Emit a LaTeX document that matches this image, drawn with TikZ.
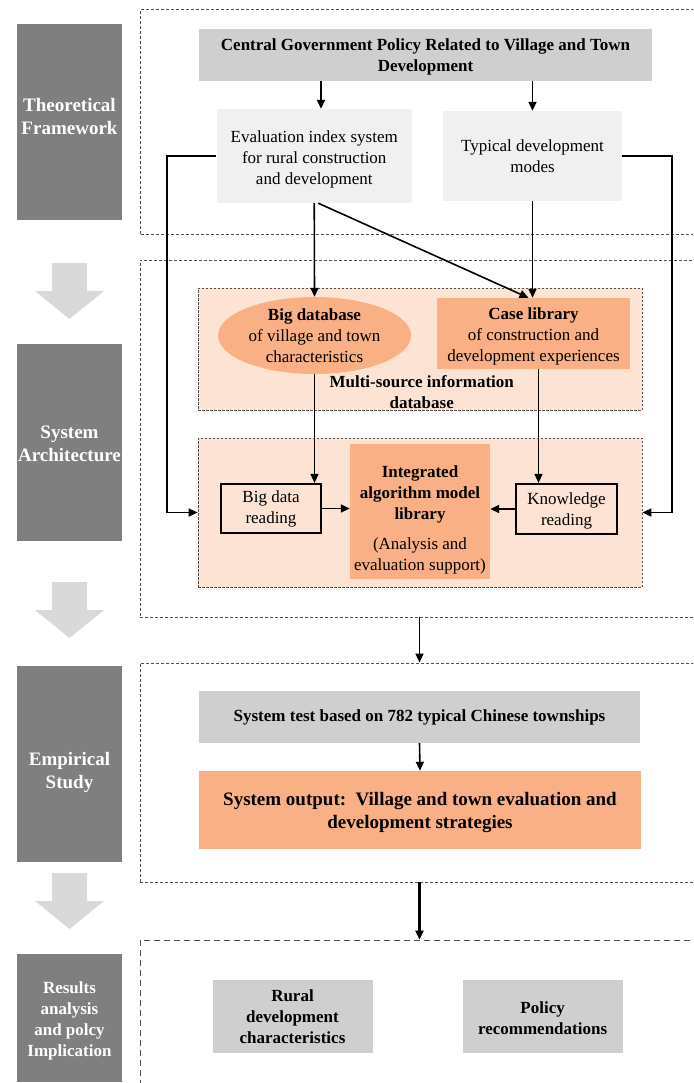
\documentclass[tikz,border=0pt]{standalone}
\usepackage{fontspec}
\setmainfont{Liberation Serif}
\usetikzlibrary{arrows.meta,shapes.geometric,calc}
\definecolor{darklab}{HTML}{7F7F7F}
\definecolor{lightarr}{HTML}{D9D9D9}
\definecolor{grayfill}{HTML}{CFCFCF}
\definecolor{palefill}{HTML}{F0F0F0}
\definecolor{orangefill}{HTML}{F8B084}
\definecolor{pinkfill}{HTML}{FCE3D4}
\definecolor{dashcol}{HTML}{505050}
\newcommand\myBody{\fontsize{17}{21}\selectfont}
\newcommand\myBold{\fontsize{17}{20.5}\selectfont\bfseries}
\newcommand\myBig{\fontsize{19}{23}\selectfont\bfseries}
\newcommand\phasearrow[1]{\fill[lightarr] (52,#1) -- (87,#1) -- (87,#1+28) -- (104,#1+28) -- (69.5,#1+56) -- (35,#1+28) -- (52,#1+28) -- cycle;}
\tikzset{
  phaselabel/.style={fill=darklab, inner sep=0, minimum width=105},
  phasetext/.style={text=white, font=\myBig, align=center, inner sep=0},
  outerbox/.style={draw=dashcol, dash pattern=on 3pt off 2pt, line width=0.8pt, inner sep=0},
  pinkbox/.style={draw=dashcol, fill=pinkfill, dash pattern=on 2.5pt off 1.5pt, line width=0.7pt, inner sep=0},
  graybox/.style={fill=grayfill, font=\myBold, align=center, inner sep=0},
  palebox/.style={fill=palefill, font=\myBody, align=center, inner sep=0},
  orangebox/.style={fill=orangefill, font=\myBody, align=center, inner sep=0},
  readbox/.style={draw=black, line width=2.2pt, fill=pinkfill, font=\myBody, align=center, inner sep=0},
  conn/.style={draw=black, line width=1.6pt, -{Triangle[length=9pt,width=8pt]}},
}
\begin{document}
\begin{tikzpicture}[x=1pt,y=-1pt]
\clip (0,0) rectangle (693,1083);
\fill[white] (0,0) rectangle (693,1083);

% phase labels
\node[phaselabel, minimum height=196] (tfl) at (69.5,122) {};
\node[phasetext] (tflt) at (69.5,117) {Theoretical\\Framework};
\node[phaselabel, minimum height=197] (sal) at (69.5,442.5) {};
\node[phasetext] (salt) at (69.5,443.5) {System\\Architecture};
\node[phaselabel, minimum height=196] (esl) at (69.5,764) {};
\node[phasetext] (eslt) at (69.5,772) {Empirical\\Study};
\node[phaselabel, minimum height=128] (rl) at (69.5,1018) {};
\node[phasetext, font=\fontsize{17}{21}\selectfont\bfseries] (rlt) at (69.5,1021) {Results\\analysis\\and polcy\\Implication};
\phasearrow{263}
\phasearrow{582}
\phasearrow{873}

% outer dashed frames
\node[outerbox, minimum width=599.5, minimum height=224.5] (tf) at (440.25,121.75) {};
\node[outerbox, minimum width=600, minimum height=357] (sa) at (440,438.5) {};
\node[outerbox, minimum width=600, minimum height=219] (es) at (440,772.5) {};
\node[outerbox, dash pattern=on 6pt off 4pt, minimum width=600, minimum height=170] (ra) at (440,1025) {};

% theoretical framework
\node[graybox, minimum width=453, minimum height=52] (cgp) at (425.5,55) {};
\node[font=\myBold, align=center, inner sep=0] (cgpt) at (425.5,57) {Central Government Policy Related to Village and Town\\Development};
\node[palebox, minimum width=195.5, minimum height=94] (eval) at (314.25,156) {};
\node[font=\myBody, align=center, inner sep=0] (evalt) at (314.25,159) {Evaluation index system\\for rural construction\\and development};
\node[palebox, minimum width=179, minimum height=90] (typ) at (532.5,156) {Typical development\\modes};

% system architecture
\node[pinkbox, minimum width=444, minimum height=122] (msdb) at (420,349) {};
\node[pinkbox, minimum width=444, minimum height=149] (proc) at (420,512.5) {};
\node[ellipse, fill=orangefill, font=\myBody, align=center, inner sep=0, minimum width=193, minimum height=77] (bigdb) at (314.5,335.5) {\textbf{Big database}\\of village and town\\characteristics};
\node[orangebox, minimum width=193, minimum height=71] (case) at (533.5,333.5) {};
\node[font=\myBody, align=center, inner sep=0] (caset) at (533.5,336) {\textbf{Case library}\\of construction and\\development experiences};
\node[font=\myBold, align=center, inner sep=0] (mstext) at (421.7,392) {Multi-source information\\database};
\node[orangebox, minimum width=140, minimum height=135] (integ) at (420,511.5) {};
\node[font=\myBody, align=center, inner sep=0] (integt) at (420,520) {\textbf{Integrated}\\\textbf{algorithm model}\\\textbf{library}\\[9pt](Analysis and\\evaluation support)};
\node[readbox, minimum width=100, minimum height=49] (bdr) at (271,508.5) {Big data\\reading};
\node[readbox, minimum width=101, minimum height=50] (kr) at (566.5,509) {};
\node[font=\myBody, align=center, inner sep=0] (krt) at (566.5,511) {Knowledge\\reading};

% empirical study
\node[graybox, minimum width=441, minimum height=52] (test) at (419.5,717) {System test based on 782 typical Chinese townships};
\node[orangebox, font=\myBig, minimum width=442, minimum height=78] (out) at (420,810) {};
\node[font=\myBig, align=center, inner sep=0] (outt) at (420,812) {System output:\ \ Village and town evaluation and\\development strategies};

% results
\node[graybox, font=\fontsize{17}{21}\selectfont\bfseries, minimum width=160, minimum height=73] (rural) at (292.5,1016.5) {Rural\\development\\characteristics};
\node[graybox, font=\fontsize{17}{21}\selectfont\bfseries, minimum width=160, minimum height=73] (policy) at (542.6,1016.5) {};
\node[font=\fontsize{17}{21}\selectfont\bfseries, align=center, inner sep=0] (policyt) at (542.6,1018) {Policy\\recommendations};

% guide coordinates
\coordinate (xL) at (321,0);
\coordinate (xLL) at (167,0);
\coordinate (xRR) at (672,0);

% connectors
\draw[conn] (cgp.south -| xL) -- (eval.north -| xL);
\draw[conn] (cgp.south -| typ.north) -- (typ.north);
\draw[conn] (eval.west) -- (eval.west -| xLL) |- (proc.west);
\draw[conn] (typ.east) -- (typ.east -| xRR) |- (proc.east);
\draw[conn] (eval.south) -- (bigdb.north);
\draw[conn] ([xshift=4]eval.south) -- ([xshift=-5]case.north);
\draw[conn] (typ.south) -- (typ.south |- case.north);
\draw[conn] (bigdb.south) -- (bigdb.south |- bdr.north);
\draw[conn] ([xshift=5]case.south) -- ([xshift=5]case.south |- kr.north);
\draw[conn] (bdr.east) -- (bdr.east -| integ.west);
\draw[conn] (kr.west) -- (kr.west -| integ.east);
\draw[conn] (sa.south -| test.north) -- (es.north -| test.north);
\draw[conn] (test.south) -- (out.north);
\draw[conn, line width=2.2pt] (es.south -| test.north) -- (ra.north -| test.north);
\end{tikzpicture}
\end{document}
